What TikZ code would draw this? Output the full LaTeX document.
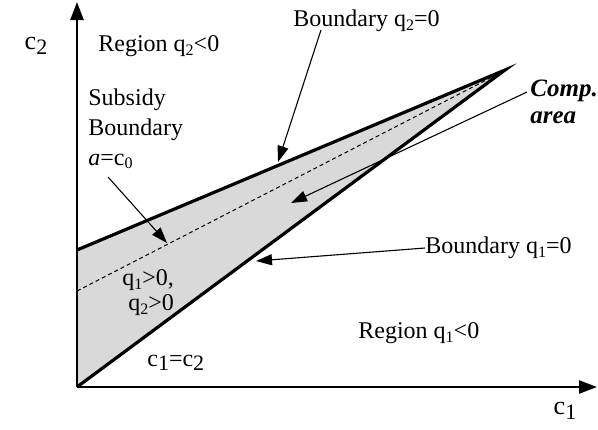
\documentclass[tikz,border=0pt]{standalone}
\usepackage{fontspec}
\setmainfont{Liberation Serif}
\usetikzlibrary{arrows.meta}
\newcommand\lo[1]{\raisebox{-0.35ex}{\fontsize{8}{8}\selectfont #1}}
\newcommand\lob[1]{\raisebox{-0.4ex}{\fontsize{11}{11}\selectfont #1}}
\begin{document}
\begin{tikzpicture}[x=0.5pt,y=-0.5pt,
  font=\fontsize{12}{15}\selectfont,
  lbl/.style={inner sep=0pt, anchor=west},
  ptr/.style={line width=0.55pt, -{Triangle[length=8pt,width=5.5pt]}},
  axis/.style={line width=1.2pt, -{Triangle[length=9pt,width=6.5pt]}},
  edge/.style={line width=1.6pt, line join=miter}]
\useasboundingbox (0,0) rectangle (598,429);
% geometry
\coordinate (O) at (77,387);
\coordinate (L) at (77,250);
\coordinate (A) at (505,70);
\coordinate (D0) at (77,291);
\coordinate (D1) at (498,74);
\coordinate (Ytop) at (77,2);
\coordinate (Xend) at (597,387);
% shaded area
\fill[black!15] (O) -- (L) -- (A) -- cycle;
\draw[line width=0.5pt, dash pattern=on 2pt off 1.5pt] (D0) -- (D1);
\draw[edge] (L) -- (A) -- (O);
% axes
\draw[axis] (O) -- (Ytop);
\draw[axis] (O) -- (Xend);
% labels
\node (c2) at (36,46) {\fontsize{13}{13}\selectfont c\lob{2}};
\node (c1) at (565,411) {\fontsize{13}{13}\selectfont c\lob{1}};
\node[lbl] (rq2) at (98,46) {Region q\lo{2}<0};
\node[lbl] (bq2) at (293,21) {Boundary q\lo{2}=0};
\node[lbl, align=left, anchor=north west] (sub) at (88,88) {Subsidy\\Boundary\\\textit{a}=c\lo{0}};
\node[lbl, align=left, anchor=north west, font=\fontsize{12.5}{13.5}\selectfont\bfseries\itshape] (comp) at (530,80) {Comp.\\area};
\node[lbl] (bq1) at (425,248) {Boundary q\lo{1}=0};
\node[lbl] (rq1) at (358,333) {Region q\lo{1}<0};
\node[lbl] (q1) at (122,280) {q\lo{1}>0,};
\node[lbl] (q2) at (128,305) {q\lo{2}>0};
\node[lbl] (eq) at (147,363) {c\lob{1}=c\lob{2}};
% pointers
\coordinate (s1) at (321,30);
\coordinate (t1) at (278,162);
\draw[ptr] (s1) -- (t1);
\coordinate (s2) at (108,177);
\coordinate (t2) at (167,243);
\draw[ptr] (s2) -- (t2);
\coordinate (t3) at (291,203);
\coordinate (s3) at ([xshift=-1.5pt,yshift=-6pt]comp.north west);
\draw[ptr] (s3) -- (t3);
\coordinate (t4) at (256,261);
\draw[ptr] (bq1.west) -- (t4);
\end{tikzpicture}
\end{document}
